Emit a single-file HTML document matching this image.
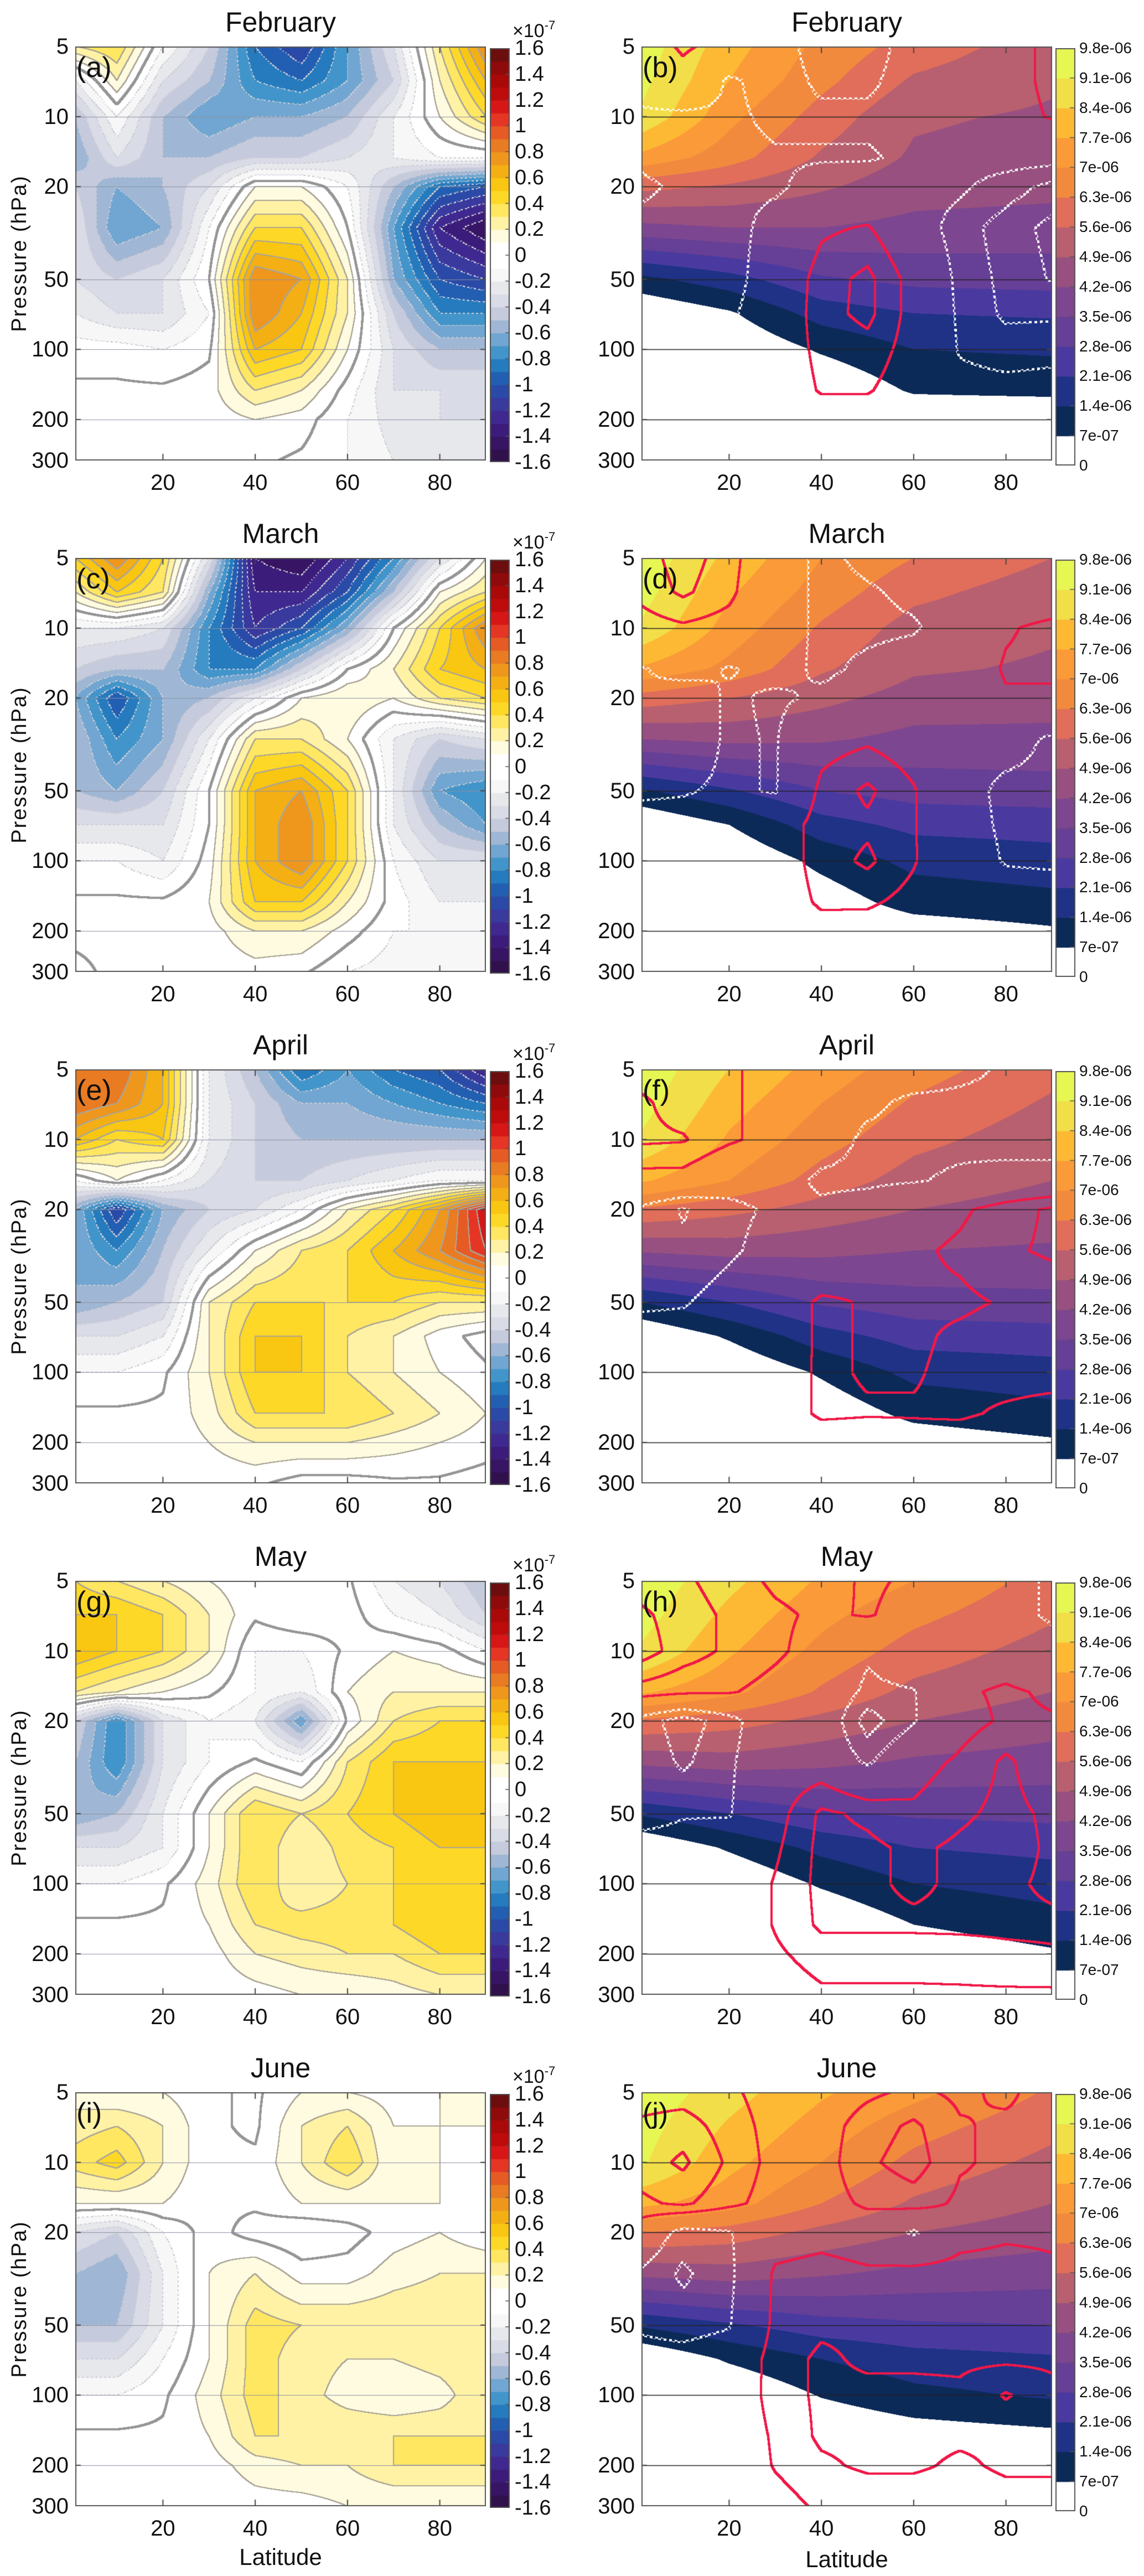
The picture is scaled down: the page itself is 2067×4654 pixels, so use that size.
<!DOCTYPE html>
<html><head><meta charset="utf-8">
<style>
body{margin:0;background:#fff;width:2067px;height:4654px;position:relative;font-family:"Liberation Sans",sans-serif;color:#111;overflow:hidden}
.t{position:absolute;white-space:nowrap;line-height:1}
canvas{position:absolute}
</style></head>
<body>
<script>
// ---------- data ----------
const months=['February','March','April','May','June'];
const letters=['a','b','c','d','e','f','g','h','i','j'];
const LATS=[1,10,20,30,40,50,60,70,80,90];
const PRES=[5,7,10,15,20,30,50,70,100,150,200,300];
const BG_LATS=[1,20,40,60,90];
const yTickLabels=[5,10,20,50,100,200,300];
const xTickLabels=[20,40,60,80];
const leftCbLabels=[1.6,1.4,1.2,1,0.8,0.6,0.4,0.2,0,-0.2,-0.4,-0.6,-0.8,-1,-1.2,-1.4,-1.6];
const rightCbLabels=['0','7e-07','1.4e-06','2.1e-06','2.8e-06','3.5e-06','4.2e-06','4.9e-06','5.6e-06','6.3e-06','7e-06','7.7e-06','8.4e-06','9.1e-06','9.8e-06'];
const redLevels=[1,2,3];
const whiteLevels=[-1,-2,-3];

// left anomaly fields (x1e-7), rows = PRES, cols = LATS
const anomFeb=[
[0.3,0.4,-0.1,-0.4,-0.9,-1.1,-0.7,-0.3,0.3,0.8],
[-0.2,0.2,-0.3,-0.5,-0.8,-0.9,-0.7,-0.4,0.2,0.6],
[-0.5,-0.1,-0.5,-0.7,-0.6,-0.6,-0.5,-0.2,0.1,0.4],
[-0.6,-0.3,-0.5,-0.5,-0.4,-0.4,-0.3,-0.2,-0.1,-0.1],
[-0.4,-0.6,-0.5,-0.3,0.1,0.1,-0.1,-0.5,-0.9,-1.0],
[-0.3,-0.7,-0.6,-0.1,0.4,0.4,0.0,-0.7,-1.3,-1.5],
[-0.3,-0.4,-0.3,0.0,0.8,0.7,0.2,-0.6,-1.0,-1.1],
[-0.2,-0.3,-0.3,-0.1,0.8,0.6,0.2,-0.4,-0.8,-0.8],
[-0.05,-0.05,-0.1,-0.02,0.6,0.5,0.1,-0.3,-0.5,-0.5],
[0.02,0.02,0.02,0.05,0.3,0.2,-0.05,-0.3,-0.3,-0.3],
[0.02,0.02,0.02,0.03,0.1,0.05,-0.1,-0.25,-0.3,-0.3],
[0.02,0.02,0.02,0.02,0.02,-0.02,-0.1,-0.2,-0.2,-0.2]];
const anomMar=[
[0.5,0.8,0.4,-0.3,-1.4,-1.5,-1.2,-0.8,-0.3,0.1],
[0.2,0.5,0.3,-0.6,-1.3,-1.3,-1.0,-0.5,0.1,0.3],
[-0.2,-0.2,-0.3,-0.8,-1.2,-1.0,-0.6,0.0,0.4,0.8],
[-0.4,-0.5,-0.5,-0.8,-0.8,-0.4,0.0,0.2,0.5,0.6],
[-0.6,-1.0,-0.6,-0.5,-0.2,0.1,0.2,0.1,0.3,0.4],
[-0.5,-0.8,-0.6,-0.2,0.3,0.3,0.1,-0.2,-0.4,-0.3],
[-0.5,-0.6,-0.4,0.0,0.6,0.7,0.4,-0.2,-0.7,-0.8],
[-0.3,-0.3,-0.3,0.0,0.6,0.8,0.4,-0.2,-0.5,-0.7],
[-0.1,-0.1,-0.2,0.05,0.6,0.8,0.4,-0.1,-0.3,-0.3],
[0.02,0.02,0.02,0.1,0.5,0.5,0.2,-0.05,-0.2,-0.2],
[0.02,0.02,0.02,0.05,0.2,0.2,0.05,-0.1,-0.1,-0.1],
[-0.02,0.02,0.02,0.02,0.05,0.02,-0.1,-0.15,-0.1,-0.1]];
const anomApr=[
[0.9,0.9,0.6,-0.2,-0.5,-0.9,-0.7,-0.9,-1.0,-1.3],
[0.9,0.8,0.6,-0.2,-0.4,-0.6,-0.6,-0.7,-0.8,-0.9],
[0.6,0.4,0.5,-0.2,-0.4,-0.5,-0.5,-0.5,-0.5,-0.5],
[-0.1,0.1,-0.1,-0.3,-0.4,-0.4,-0.3,-0.2,-0.1,-0.1],
[-0.6,-1.1,-0.6,-0.4,-0.3,-0.1,0.2,0.4,0.7,1.2],
[-0.6,-0.8,-0.5,-0.2,0.1,0.3,0.4,0.6,0.8,1.1],
[-0.6,-0.5,-0.4,0.2,0.4,0.4,0.4,0.4,0.3,0.3],
[-0.3,-0.3,-0.2,0.2,0.5,0.5,0.3,0.2,0.05,-0.05],
[-0.1,-0.1,-0.02,0.2,0.5,0.5,0.3,0.2,0.1,0.02],
[0.02,0.02,0.02,0.15,0.4,0.4,0.4,0.3,0.2,0.1],
[0.02,0.02,0.02,0.1,0.2,0.2,0.2,0.15,0.1,0.05],
[0.02,0.02,0.02,0.02,0.02,-0.05,-0.05,-0.02,-0.02,-0.05]];
const anomMay=[
[0.4,0.3,0.2,0.1,0.02,0.1,0.02,-0.2,-0.3,-0.5],
[0.5,0.5,0.4,0.2,0.02,0.1,0.05,-0.1,-0.2,-0.4],
[0.6,0.5,0.4,0.2,-0.1,-0.1,0.02,0.1,0.05,-0.1],
[0.3,0.2,0.1,0.02,-0.1,-0.2,0.1,0.2,0.2,0.2],
[-0.4,-0.8,-0.3,-0.1,-0.2,-0.7,0.02,0.3,0.4,0.4],
[-0.5,-0.8,-0.3,-0.1,0.02,-0.1,0.3,0.5,0.5,0.5],
[-0.6,-0.5,-0.2,0.1,0.4,0.3,0.4,0.5,0.6,0.6],
[-0.3,-0.3,-0.2,0.1,0.4,0.2,0.35,0.4,0.5,0.5],
[-0.1,-0.1,-0.02,0.15,0.4,0.2,0.3,0.4,0.4,0.4],
[0.02,0.02,0.02,0.1,0.3,0.35,0.35,0.4,0.5,0.5],
[0.02,0.02,0.02,0.05,0.2,0.25,0.3,0.3,0.4,0.4],
[0.02,0.02,0.02,0.02,0.05,0.1,0.1,0.15,0.2,0.2]];
const anomJun=[
[0.15,0.1,0.1,0.02,-0.02,0.1,0.1,0.05,0.1,0.1],
[0.25,0.3,0.2,0.02,-0.02,0.2,0.3,0.1,0.1,0.1],
[0.35,0.45,0.2,0.02,0.02,0.2,0.4,0.1,0.1,0.05],
[0.1,0.1,0.1,0.02,0.02,0.1,0.1,0.1,0.1,0.05],
[-0.3,-0.4,-0.1,0.05,-0.05,-0.1,-0.05,0.05,0.1,0.02],
[-0.5,-0.6,-0.2,0.1,0.2,0.05,0.05,0.15,0.2,0.2],
[-0.5,-0.5,-0.2,0.1,0.35,0.3,0.3,0.3,0.3,0.3],
[-0.3,-0.3,-0.1,0.1,0.35,0.25,0.2,0.2,0.25,0.3],
[-0.1,-0.1,-0.02,0.15,0.35,0.25,0.15,0.1,0.15,0.3],
[0.02,0.02,0.02,0.1,0.3,0.3,0.3,0.3,0.3,0.3],
[0.02,0.02,0.02,0.05,0.15,0.2,0.2,0.3,0.3,0.3],
[0.02,0.02,0.02,0.02,0.05,0.05,0.1,0.1,0.1,0.1]];

// right panel background concentration (x1e-6), rows = PRES, cols = BG_LATS
const bgFeb=[[9.5,8.0,6.8,6.0,5.2],[9.3,7.7,6.5,5.5,5.0],[9.0,7.2,6.0,5.0,4.8],[7.5,6.6,5.5,4.8,4.6],[5.8,5.5,5.0,4.5,4.4],[4.0,4.2,4.2,4.0,3.9],[1.2,1.8,2.7,3.0,3.1],[0,0.6,1.7,2.1,2.2],[0,0,0.8,1.4,1.5],[0,0,0,0.8,0.9],[0,0,0,0,0],[0,0,0,0,0]];
const bgMar=[[9.6,8.2,7.0,6.3,5.6],[9.4,7.8,6.7,5.8,5.2],[9.0,7.4,6.2,5.3,5.0],[7.6,6.8,5.7,5.0,4.8],[6.0,5.6,5.1,4.6,4.5],[4.2,4.4,4.3,4.0,4.0],[1.3,2.0,2.8,3.1,3.2],[0,0.7,1.8,2.3,2.4],[0,0,0.9,1.6,1.8],[0,0,0.3,1.0,1.2],[0,0,0,0.3,0.6],[0,0,0,0,0]];
const bgApr=[[9.6,8.4,7.4,6.6,5.8],[9.4,8.0,7.0,6.2,5.5],[9.0,7.6,6.6,5.8,5.2],[7.8,7.0,6.0,5.3,4.9],[6.2,5.8,5.3,4.9,4.6],[4.3,4.5,4.4,4.2,4.1],[1.4,2.1,2.9,3.2,3.3],[0,0.8,1.8,2.4,2.5],[0,0,0.8,1.6,1.8],[0,0,0.2,0.9,1.2],[0,0,0,0.3,0.6],[0,0,0,0,0]];
const bgMay=[[9.6,8.6,7.6,7.0,6.0],[9.4,8.2,7.2,6.5,5.7],[9.0,7.8,6.8,6.0,5.3],[7.8,7.2,6.2,5.4,4.9],[6.2,5.9,5.4,4.9,4.5],[4.4,4.6,4.4,4.1,3.9],[1.5,2.1,2.7,2.9,3.0],[0,0.8,1.6,2.1,2.3],[0,0,0.8,1.4,1.7],[0,0,0,0.7,1.1],[0,0,0,0.2,0.6],[0,0,0,0,0]];
const bgJun=[[9.6,8.7,7.8,7.2,6.2],[9.4,8.3,7.4,6.6,5.8],[9.2,7.9,7.0,6.1,5.4],[7.9,7.3,6.3,5.5,4.9],[6.3,6.0,5.4,4.9,4.5],[4.4,4.6,4.3,4.0,3.8],[1.5,2.0,2.5,2.7,2.8],[0,0.8,1.4,1.8,2.0],[0,0,0.75,1.2,1.5],[0,0,0,0.3,0.5],[0,0,0,0,0],[0,0,0,0,0]];

// right panel contour field (relative anomaly), rows = PRES, cols = LATS
const relFeb=[
[0.2,1.2,0.5,-0.5,-1.5,-1.5,-0.5,0.2,0.5,1.3],
[-0.5,0.5,-1.2,-0.5,-1.2,-1.2,-0.5,-0.5,0.5,1.3],
[-1.2,-1.3,-1.2,-0.8,-0.8,-0.8,-0.8,-0.5,0.5,1.1],
[-1.2,-1.5,-1.2,-1.1,-1.1,-1.1,-0.8,-0.6,-0.5,-0.5],
[-0.8,-1.2,-1.2,-1.2,-0.5,-0.3,-0.6,-0.8,-1.5,-2.3],
[-1.3,-1.5,-1.5,-0.5,0.8,1.1,-0.3,-1.5,-2.5,-3.3],
[-1.5,-1.5,-1.5,-0.2,1.5,2.3,0.5,-1.3,-2.3,-3.1],
[-1.2,-1.2,-1.2,-0.2,1.6,2.3,0.5,-1.2,-2.2,-2.2],
[-0.6,-0.6,-0.6,0.2,1.3,1.6,0.5,-1.1,-1.5,-1.3],
[-0.2,-0.2,-0.2,0.2,1.1,1.1,0.3,-0.6,-0.6,-0.6],
[-0.1,-0.1,-0.1,0.1,0.3,0.3,0.1,-0.3,-0.3,-0.3],
[-0.1,-0.1,-0.1,0.1,0.1,0.1,0.1,-0.1,-0.1,-0.1]];
const relMar=[
[1.5,2.5,1.5,-0.5,-1.2,-0.8,-0.5,-0.5,-0.5,-0.5],
[1.3,2.2,1.3,-0.5,-1.2,-1.1,-0.8,-0.5,-0.5,-0.5],
[0.5,0.8,0.5,-0.5,-1.2,-1.2,-1.1,-0.5,0.8,1.5],
[-1.1,-0.5,-1.1,-0.6,-1.2,-0.8,-0.5,-0.3,1.2,1.5],
[-1.1,-1.8,-0.8,-1.2,-0.8,-0.5,-0.3,-0.3,0.8,0.5],
[-1.2,-1.8,-0.8,-1.1,0.5,0.8,0.3,-0.5,-0.5,-1.2],
[-1.2,-1.1,-0.8,-1.1,1.3,2.2,1.1,-0.5,-1.3,-1.3],
[-0.5,-0.5,-0.5,0.2,1.5,1.8,1.1,-0.5,-1.2,-1.3],
[-0.2,-0.2,-0.2,0.2,1.5,2.2,1.1,-0.3,-1.1,-1.2],
[-0.1,-0.1,-0.1,0.2,1.2,1.2,0.6,-0.1,-0.3,-0.3],
[-0.1,-0.1,-0.1,0.1,0.5,0.4,0.1,-0.1,-0.1,-0.1],
[-0.1,-0.1,-0.1,0.1,0.1,0.1,0.1,-0.1,-0.1,-0.1]];
const relApr=[
[1.5,1.5,1.2,0.5,-0.5,-0.8,-0.5,-0.8,-1.1,-1.5],
[2.2,1.5,1.2,0.5,-0.5,-0.8,-1.2,-1.2,-1.2,-1.5],
[2.2,2.1,1.2,0.5,-0.5,-1.2,-1.3,-1.3,-1.5,-1.5],
[0.5,0.5,-0.5,-0.5,-1.2,-1.2,-1.1,-0.8,-0.5,-0.5],
[-1.2,-2.1,-1.3,-0.8,-0.8,-0.5,0.3,0.8,1.5,2.2],
[-1.2,-1.8,-1.2,-0.5,-0.3,0.5,0.8,1.2,1.8,2.2],
[-1.2,-1.1,-0.5,0.2,1.2,0.9,0.8,0.8,1.1,1.2],
[-0.5,-0.5,-0.2,0.2,1.2,0.9,0.8,1.2,1.5,1.5],
[-0.2,-0.2,-0.1,0.3,1.2,0.9,0.9,1.3,1.5,1.5],
[-0.1,-0.1,-0.1,0.3,1.2,1.1,1.1,1.2,0.8,0.5],
[-0.1,-0.1,-0.1,0.1,0.3,0.3,0.5,0.3,0.2,0.2],
[-0.1,-0.1,-0.1,0.1,0.1,0.1,0.1,0.1,0.1,0.1]];
const relMay=[
[2.5,2.2,1.5,0.8,0.5,1.2,0.8,0.5,-0.5,-1.2],
[3.2,2.5,1.8,1.2,0.8,1.1,0.5,0.2,-0.5,-1.2],
[3.5,2.5,1.8,1.2,0.5,-0.8,0.2,0.2,0.2,-0.5],
[1.5,1.2,1.1,0.6,0.2,-1.3,-1.1,0.8,1.2,0.8],
[-1.5,-2.5,-1.5,0.2,0.2,-2.5,-1.1,0.5,1.2,1.1],
[-1.2,-2.2,-1.2,0.2,0.2,-1.2,0.5,1.2,2.2,1.2],
[-1.5,-1.1,-1.1,0.5,2.2,1.8,1.2,1.8,2.3,1.8],
[-0.5,-0.5,-0.2,0.8,2.3,2.2,1.8,2.2,2.5,1.8],
[-0.2,-0.2,-0.1,1.1,2.3,2.2,1.8,2.2,2.2,1.8],
[-0.1,-0.1,-0.1,1.1,2.2,2.2,2.2,2.2,2.2,2.2],
[-0.1,-0.1,-0.1,0.8,1.5,1.5,1.5,1.6,1.8,1.9],
[-0.1,-0.1,-0.1,0.3,0.8,0.8,0.8,0.8,0.8,0.8]];
const relJun=[
[1.5,1.5,1.2,0.5,0.3,0.8,1.2,0.8,1.2,0.5],
[2.2,2.5,1.5,0.6,0.5,1.5,2.2,1.1,0.8,0.8],
[2.5,3.2,1.8,0.6,0.5,1.8,2.5,1.1,0.8,0.8],
[1.8,2.2,1.3,0.5,0.5,1.2,1.5,0.8,0.8,0.8],
[0.2,-1.5,-1.1,0.3,0.5,0.2,-1.2,0.5,0.8,0.8],
[-1.2,-2.2,-1.3,1.2,1.5,1.2,1.5,1.5,1.5,1.2],
[-1.2,-1.5,-1.1,1.3,1.8,1.8,1.5,1.5,1.8,1.5],
[-0.5,-0.5,-0.2,1.5,2.2,1.8,1.8,1.8,1.8,1.8],
[-0.2,-0.2,-0.1,1.5,2.2,2.3,2.3,2.2,3.1,2.3],
[-0.1,-0.1,-0.1,1.2,2.2,2.3,2.3,2.2,2.2,2.2],
[-0.1,-0.1,-0.1,1.1,1.8,2.2,2.2,1.8,2.2,2.2],
[-0.1,-0.1,-0.1,0.5,1.2,1.2,1.2,1.3,1.5,1.5]];

const anomFields=[anomFeb,anomMar,anomApr,anomMay,anomJun];
const bgFields=[bgFeb,bgMar,bgApr,bgMay,bgJun];
const relFields=[relFeb,relMar,relApr,relMay,relJun];

// ---------- styling / layout ----------
const ROW=924, PT=84, PH=748;
const LX=136, RX=1159, PW=742;
const LMIN=1, LMAX=90, PMIN=5, PMAX=300;
const leftAnchors=[[-1.6,'#2c1040'],[-1.4,'#3b1570'],[-1.2,'#40309a'],[-1.0,'#2453ab'],[-0.9,'#1f6bb8'],[-0.8,'#2a8bc4'],[-0.7,'#5a9fd0'],[-0.6,'#86add2'],[-0.5,'#b8c0d6'],[-0.4,'#d2d4e2'],[-0.3,'#e0e1ea'],[-0.2,'#eeeeee'],[-0.1,'#ffffff'],[0.1,'#ffffff'],[0.2,'#fff6c2'],[0.3,'#ffee88'],[0.4,'#ffe03a'],[0.5,'#fcd012'],[0.6,'#f6bb10'],[0.7,'#f2a318'],[0.8,'#ec8a22'],[0.9,'#e66c22'],[1.0,'#e64a26'],[1.1,'#e42022'],[1.2,'#c80c0c'],[1.4,'#a00808'],[1.6,'#5a1010']];
const rightColors=['#ffffff','#0c2a58','#1f3286','#4a3aa0','#663f96','#7d4690','#985080','#b8606f','#e06e5a','#f28a3e','#fb9a38','#fdb934','#f2de48','#e6f753'];

function hex(c){return [parseInt(c.substr(1,2),16),parseInt(c.substr(3,2),16),parseInt(c.substr(5,2),16)];}
function leftColor(v){
  if(v<=leftAnchors[0][0])return hex(leftAnchors[0][1]);
  for(let i=0;i<leftAnchors.length-1;i++){const a=leftAnchors[i],b=leftAnchors[i+1];
    if(v<=b[0]){const t=(v-a[0])/(b[0]-a[0]);const ca=hex(a[1]),cb=hex(b[1]);return [0,1,2].map(k=>Math.round(ca[k]+(cb[k]-ca[k])*t));}}
  return hex(leftAnchors[leftAnchors.length-1][1]);
}
const leftBins=[];for(let b=0;b<32;b++){leftBins.push(leftColor(-1.6+0.1*b+0.05));}
const rightRGB=rightColors.map(hex);

function xOfLat(lat){return (lat-LMIN)/(LMAX-LMIN)*PW;}
function yOfP(p){return Math.log(p/PMIN)/Math.log(PMAX/PMIN)*PH;}
function idx(arr,v){let i=0;while(i<arr.length-2&&v>arr[i+1])i++;let t=(v-arr[i])/(arr[i+1]-arr[i]);t=Math.max(0,Math.min(1,t));return [i,t];}
const LOGP=PRES.map(p=>Math.log(p));
function field(grid,lats){
  const f=new Float32Array(PW*PH);
  const xs=[];for(let x=0;x<PW;x++){xs.push(idx(lats,LMIN+(x+0.5)/PW*(LMAX-LMIN)));}
  for(let y=0;y<PH;y++){
    const lp=Math.log(PMIN)+(y+0.5)/PH*Math.log(PMAX/PMIN);
    const [j,u]=idx(LOGP,lp);const r0=grid[j],r1=grid[j+1];
    for(let x=0;x<PW;x++){const [i,t]=xs[x];
      const a=r0[i]*(1-t)+r0[i+1]*t, b=r1[i]*(1-t)+r1[i+1]*t;
      f[y*PW+x]=a*(1-u)+b*u;}
  }
  return f;
}
// separable min/max over (2r+1)^2 window
function minmax(f,r){
  const n=PW*PH,tmn=new Float32Array(n),tmx=new Float32Array(n),mn=new Float32Array(n),mx=new Float32Array(n);
  for(let y=0;y<PH;y++)for(let x=0;x<PW;x++){let a=Infinity,b=-Infinity;
    for(let k=Math.max(0,x-r);k<=Math.min(PW-1,x+r);k++){const v=f[y*PW+k];if(v<a)a=v;if(v>b)b=v;}
    tmn[y*PW+x]=a;tmx[y*PW+x]=b;}
  for(let y=0;y<PH;y++)for(let x=0;x<PW;x++){let a=Infinity,b=-Infinity;
    for(let k=Math.max(0,y-r);k<=Math.min(PH-1,y+r);k++){const i=k*PW+x;if(tmn[i]<a)a=tmn[i];if(tmx[i]>b)b=tmx[i];}
    mn[y*PW+x]=a;mx[y*PW+x]=b;}
  return [mn,mx];
}
function setPx(d,k,c){d[k*4]=c[0];d[k*4+1]=c[1];d[k*4+2]=c[2];d[k*4+3]=255;}

function addText(txt,x,y,size,align,name,extra){
  const d=document.createElement('div');d.className='t';d.textContent=txt;
  d.style.fontSize=size+'px';d.style.top=(y-size*0.5)+'px';
  if(align==='r'){d.style.right=(2067-x)+'px';}else if(align==='c'){d.style.left=x+'px';d.style.transform='translateX(-50%)';}else{d.style.left=x+'px';}
  if(extra)Object.assign(d.style,extra);
  
  
  document.body.appendChild(d);return d;
}

function drawAxes(ctx,dark){
  ctx.strokeStyle=dark?'#222':'#8a90a0';ctx.lineWidth=dark?1.5:1.2;
  [10,20,50,100,200].forEach(p=>{const y=Math.round(yOfP(p))+0.5;ctx.beginPath();ctx.moveTo(0,y);ctx.lineTo(PW,y);ctx.stroke();});
  ctx.strokeStyle='#444';ctx.lineWidth=2;
  xTickLabels.forEach(l=>{const x=xOfLat(l);ctx.beginPath();ctx.moveTo(x,0);ctx.lineTo(x,12);ctx.moveTo(x,PH);ctx.lineTo(x,PH-12);ctx.stroke();});
  yTickLabels.forEach(p=>{const y=yOfP(p);ctx.beginPath();ctx.moveTo(0,y);ctx.lineTo(10,y);ctx.moveTo(PW,y);ctx.lineTo(PW-10,y);ctx.stroke();});
  ctx.strokeStyle='#555';ctx.lineWidth=2;ctx.strokeRect(1,1,PW-2,PH-2);
}

for(let m=0;m<5;m++){
  const oy=m*ROW, top=PT+oy;
  // ---- left panel ----
  const cl=document.createElement('canvas');cl.width=PW;cl.height=PH;cl.style.left=LX+'px';cl.style.top=top+'px';
  
  
  document.body.appendChild(cl);
  const ctx=cl.getContext('2d');const img=ctx.createImageData(PW,PH);const d=img.data;
  const f=field(anomFields[m],LATS);
  const [mn1,mx1]=minmax(f,1);const [mn2,mx2]=minmax(f,2);
  for(let y=0;y<PH;y++)for(let x=0;x<PW;x++){const k=y*PW+x;const v=f[k];
    let b=Math.floor((v+1.6)/0.1);b=Math.max(0,Math.min(31,b));let c=leftBins[b];
    if(mn2[k]<0&&mx2[k]>0){c=[150,150,150];}
    else{const b1=Math.floor(mn1[k]/0.1),b2=Math.floor(mx1[k]/0.1);
      if(b1!==b2 && Math.abs(v)>0.05){ if(v>0)c=[170,165,150]; else if(((x>>2)+(y>>2))&1)c=[205,205,215]; }}
    setPx(d,k,c);}
  ctx.putImageData(img,0,0);drawAxes(ctx,false);

  // ---- right panel ----
  const cr=document.createElement('canvas');cr.width=PW;cr.height=PH;cr.style.left=RX+'px';cr.style.top=top+'px';
  
  
  document.body.appendChild(cr);
  const ctr=cr.getContext('2d');const im2=ctr.createImageData(PW,PH);const d2=im2.data;
  const fb=field(bgFields[m],BG_LATS);const fr=field(relFields[m],LATS);
  const [rmn,rmx]=minmax(fr,2);
  for(let y=0;y<PH;y++)for(let x=0;x<PW;x++){const k=y*PW+x;
    let b=Math.floor(fb[k]/0.7);b=Math.max(0,Math.min(13,b));let c=rightRGB[b];
    for(const L of redLevels){if(rmn[k]<L&&rmx[k]>L){c=[240,24,72];}}
    for(const L of whiteLevels){if(rmn[k]<L&&rmx[k]>L&&(((x/5|0)+(y/5|0))&1)){c=[255,255,255];}}
    setPx(d2,k,c);}
  ctr.putImageData(im2,0,0);drawAxes(ctr,true);

  // ---- colorbars ----
  const cbl=document.createElement('canvas');cbl.width=36;cbl.height=PH;cbl.style.left='885px';cbl.style.top=(top+3)+'px';
  
  
  document.body.appendChild(cbl);
  const cc=cbl.getContext('2d');
  for(let b=0;b<32;b++){const c=leftBins[b];cc.fillStyle='rgb('+c.join(',')+')';const y0=PH-(b+1)*PH/32;cc.fillRect(0,y0,36,PH/32+1);}
  cc.strokeStyle='#555';cc.lineWidth=2;cc.strokeRect(1,1,34,PH-2);
  cc.lineWidth=1.5;leftCbLabels.forEach(v=>{const y=(1.6-v)/3.2*PH;cc.beginPath();cc.moveTo(28,y);cc.lineTo(36,y);cc.stroke();});
  const cbr=document.createElement('canvas');cbr.width=36;cbr.height=PH+6;cbr.style.left='1907px';cbr.style.top=(top+3)+'px';
  
  
  document.body.appendChild(cbr);
  const cd=cbr.getContext('2d');const H2=PH+6;
  for(let b=0;b<14;b++){cd.fillStyle=rightColors[b];const y0=H2-(b+1)*H2/14;cd.fillRect(0,y0,36,H2/14+1);}
  cd.strokeStyle='#555';cd.lineWidth=2;cd.strokeRect(1,1,34,H2-2);
  cd.lineWidth=1.5;rightCbLabels.forEach((s,i)=>{const y=H2-i*H2/14;cd.beginPath();cd.moveTo(26,y);cd.lineTo(36,y);cd.stroke();});

  // ---- text ----
  addText(months[m],LX+PW/2,40+oy,50,'c','panel-title-left');
  addText(months[m],RX+PW/2,40+oy,50,'c','panel-title-right');
  addText('('+letters[2*m]+')',LX+2,top+38,52,'l','panel-label');
  addText('('+letters[2*m+1]+')',RX+2,top+38,52,'l','panel-label');
  yTickLabels.forEach(p=>{addText(String(p),124,top+yOfP(p),40,'r','y-tick-label');addText(String(p),1147,top+yOfP(p),40,'r','y-tick-label');});
  xTickLabels.forEach(l=>{addText(String(l),LX+xOfLat(l),top+PH+40,40,'c','x-tick-label');addText(String(l),RX+xOfLat(l),top+PH+40,40,'c','x-tick-label');});
  leftCbLabels.forEach(v=>{addText(v===0?'0':String(v),930,top+3+(1.6-v)/3.2*PH,38,'l','colorbar-tick-label');});
  rightCbLabels.forEach((s,i)=>{addText(s,1950,top+3+(PH+6)-i*(PH+6)/14,28,'l','colorbar-tick-label');});
  const ex=addText('×10',926,oy+52,34,'l','colorbar-exponent');
  const sup=document.createElement('sup');sup.textContent='-7';sup.style.fontSize='22px';sup.style.verticalAlign='14px';ex.appendChild(sup);
  addText('Pressure (hPa)',35,top+PH/2,38,'c','y-axis-title',{transform:'translateX(-50%) rotate(-90deg)',letterSpacing:'2px'});
}
addText('Latitude',LX+PW/2,4620,42,'c','x-axis-title');
addText('Latitude',RX+PW/2,4624,42,'c','x-axis-title');
</script>
</body></html>
